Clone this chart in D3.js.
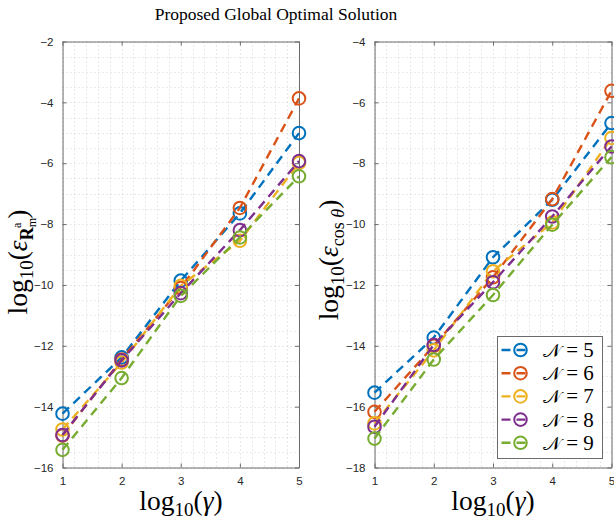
<!DOCTYPE html>
<html><head><meta charset="utf-8">
<script src="https://cdn.jsdelivr.net/npm/d3@7"></script>
<style>body{margin:0;background:#fff}svg{display:block}</style>
</head><body>
<script>
const xValues = [1, 2, 3, 4, 5];
const seriesNames = ["5", "6", "7", "8", "9"];
const seriesColors = ["#0072BD", "#D95319", "#EDB120", "#7E2F8E", "#77AC30"];
// left panel: log10(eps_R)
const leftN5 = [-14.23, -12.38, -9.86, -7.65, -5.01];
const leftN6 = [-14.95, -12.45, -10.10, -7.47, -3.87];
const leftN7 = [-14.75, -12.55, -10.03, -8.55, -5.99];
const leftN8 = [-14.93, -12.48, -10.27, -8.20, -5.93];
const leftN9 = [-15.42, -13.06, -10.36, -8.44, -6.43];
// right panel: log10(eps_cos)
const rightN5 = [-15.54, -13.73, -11.09, -9.20, -6.68];
const rightN6 = [-16.17, -14.00, -11.75, -9.18, -5.62];
const rightN7 = [-16.55, -14.15, -11.55, -9.95, -7.17];
const rightN8 = [-16.66, -13.97, -11.91, -9.75, -7.45];
const rightN9 = [-17.05, -14.45, -12.33, -10.02, -7.80];
const xTicks = [1, 2, 3, 4, 5];
const leftYTicks = [-16, -14, -12, -10, -8, -6, -4, -2];
const rightYTicks = [-18, -16, -14, -12, -10, -8, -6, -4];

const W = 614, H = 521;
const svg = d3.select("body").append("svg").attr("width", W).attr("height", H);

svg.append("text").attr("x", 276).attr("y", 20).attr("text-anchor", "middle")
  .attr("font-family", "Liberation Serif, serif").attr("font-size", 17.5)
  .text("Proposed Global Optimal Solution");

function panel(x0, x1, y0, y1, domainY, yTicks, data) {
  const g = svg.append("g");
  const x = d3.scaleLinear().domain([1, 5]).range([x0, x1]);
  const y = d3.scaleLinear().domain(domainY).range([y1, y0]);
  const gx = d3.range(1, 5.0001, 0.2);
  const gy = d3.range(domainY[0], domainY[1] + 0.0001, 0.5);
  g.selectAll(".gx").data(gx).join("line")
    .attr("x1", d => Math.round(x(d)) + 0.5).attr("x2", d => Math.round(x(d)) + 0.5)
    .attr("y1", y0).attr("y2", y1)
    .attr("stroke", "#d2d2d2").attr("stroke-width", 1).attr("stroke-dasharray", "1,3");
  g.selectAll(".gy").data(gy).join("line")
    .attr("y1", d => Math.round(y(d)) + 0.5).attr("y2", d => Math.round(y(d)) + 0.5)
    .attr("x1", x0).attr("x2", x1)
    .attr("stroke", "#d2d2d2").attr("stroke-width", 1).attr("stroke-dasharray", "1,3");
  const fmt = d3.format("d");
  const axB = d3.axisBottom(x).tickValues(xTicks).tickFormat(fmt).tickSizeInner(-4).tickSizeOuter(0).tickPadding(9);
  const axT = d3.axisTop(x).tickValues(xTicks).tickSizeInner(-4).tickSizeOuter(0).tickFormat("");
  const axL = d3.axisLeft(y).tickValues(yTicks).tickFormat(fmt).tickSizeInner(-4).tickSizeOuter(0).tickPadding(9);
  const axR = d3.axisRight(y).tickValues(yTicks).tickSizeInner(-4).tickSizeOuter(0).tickFormat("");
  const style = sel => {
    sel.selectAll("path,line").attr("stroke", "#6b6b6b");
    sel.selectAll("text").attr("fill", "#262626").attr("font-family", "Liberation Sans, Arial, sans-serif").attr("font-size", 11.5);
  };
  g.append("g").attr("transform", `translate(0,${y1})`).call(axB).call(style);
  g.append("g").attr("transform", `translate(0,${y0})`).call(axT).call(style);
  g.append("g").attr("transform", `translate(${x0},0)`).call(axL).call(style);
  g.append("g").attr("transform", `translate(${x1},0)`).call(axR).call(style);
  const line = d3.line().x((d, i) => x(xValues[i])).y(d => y(d));
  data.forEach((vals, k) => {
    g.append("path").attr("d", line(vals)).attr("fill", "none")
      .attr("stroke", seriesColors[k]).attr("stroke-width", 2.4).attr("stroke-dasharray", "9,6");
    g.selectAll(null).data(vals).join("circle")
      .attr("cx", (d, i) => x(xValues[i])).attr("cy", d => y(d)).attr("r", 6.3)
      .attr("fill", "none").attr("stroke", seriesColors[k]).attr("stroke-width", 2);
  });
  return {x, y};
}

panel(62.5, 299, 41.5, 467.5, [-16, -2], leftYTicks, [leftN5, leftN6, leftN7, leftN8, leftN9]);
panel(374.5, 611.5, 41.5, 467.5, [-18, -4], rightYTicks, [rightN5, rightN6, rightN7, rightN8, rightN9]);

const serif = "Liberation Serif, serif";
function xlabel(cx) {
  const t = svg.append("text").attr("x", cx).attr("y", 510).attr("text-anchor", "middle")
    .attr("font-family", serif).attr("font-size", 27.5).attr("fill", "#000");
  t.append("tspan").text("log");
  t.append("tspan").attr("dy", 6).attr("font-size", 19).text("10");
  t.append("tspan").attr("dy", -6).text("(");
  t.append("tspan").attr("font-style", "italic").text("γ");
  t.append("tspan").text(")");
}
xlabel(181);
xlabel(493);

{
  const t = svg.append("text").attr("transform", "translate(27,262) rotate(-90)")
    .attr("text-anchor", "middle").attr("font-family", serif).attr("font-size", 27.5).attr("fill", "#000");
  t.append("tspan").text("log");
  t.append("tspan").attr("dy", 6).attr("font-size", 19).text("10");
  t.append("tspan").attr("dy", -6).text("(");
  t.append("tspan").attr("font-style", "italic").text("ε");
  t.append("tspan").attr("dy", 6).attr("font-size", 18).attr("font-weight", "bold").text("R");
  t.append("tspan").attr("dy", 3).attr("font-size", 12).text("m");
  t.append("tspan").attr("dx", -10).attr("dy", -15).attr("font-size", 12).text("a");
  t.append("tspan").attr("dx", 4).attr("dy", 6).text(")");
}
{
  const t = svg.append("text").attr("transform", "translate(338,260) rotate(-90)")
    .attr("text-anchor", "middle").attr("font-family", serif).attr("font-size", 27.5).attr("fill", "#000");
  t.append("tspan").text("log");
  t.append("tspan").attr("dy", 6).attr("font-size", 19).text("10");
  t.append("tspan").attr("dy", -6).text("(");
  t.append("tspan").attr("font-style", "italic").text("ε");
  t.append("tspan").attr("dy", 6).attr("font-size", 18).text("cos ");
  t.append("tspan").attr("font-size", 18).attr("font-style", "italic").text("θ");
  t.append("tspan").attr("dy", -6).text(")");
}

{
  const lx = 497.5, ly = 336.5, lw = 105, lh = 122;
  const lg = svg.append("g");
  lg.append("rect").attr("x", lx).attr("y", ly).attr("width", lw).attr("height", lh)
    .attr("fill", "#fff").attr("stroke", "#6b6b6b").attr("stroke-width", 1);
  seriesNames.forEach((n, k) => {
    const yy = 350 + k * 23.2;
    lg.append("line").attr("x1", 501.5).attr("x2", 530).attr("y1", yy).attr("y2", yy)
      .attr("stroke", seriesColors[k]).attr("stroke-width", 2.4).attr("stroke-dasharray", "9,6");
    lg.append("circle").attr("cx", 520.5).attr("cy", yy).attr("r", 6.3)
      .attr("fill", "none").attr("stroke", seriesColors[k]).attr("stroke-width", 2);
    const t = lg.append("text").attr("x", 543).attr("y", yy + 7).attr("font-family", serif)
      .attr("font-size", 21).attr("fill", "#000");
    t.append("tspan").attr("font-family", "DejaVu Serif, serif").attr("font-size", 19).text("𝒩");
    t.append("tspan").text(" = " + n);
  });
}
</script>
</body></html>
